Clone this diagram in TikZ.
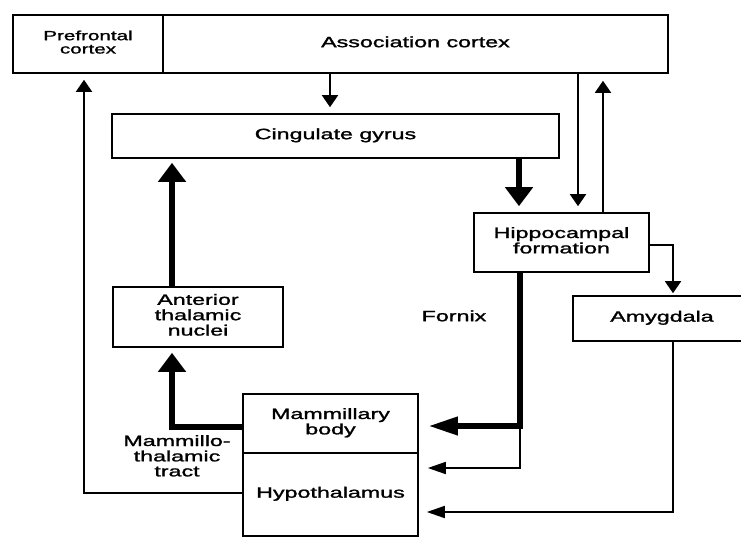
\documentclass[tikz,border=0pt]{standalone}
\usepackage{fontspec}
\setmainfont{Liberation Sans}[FakeBold=1.2]
\newfontfamily\heavyfont{Liberation Sans}[FakeBold=1.2]
\usetikzlibrary{arrows.meta}
\newcommand\wt[2][15]{\scalebox{1.55}[1]{\heavyfont\fontsize{#1}{#1}\selectfont\begin{tabular}{@{}c@{}}#2\end{tabular}}}
\tikzset{
  boxnode/.style={draw, line width=1.6pt, rectangle, inner sep=0pt, anchor=center},
  lbl/.style={inner sep=0pt, anchor=center},
  thinv/.style={line width=1.7pt, -{Triangle[width=16pt,length=12pt]}},
  thinh/.style={line width=1.7pt, -{Triangle[width=12pt,length=18pt]}},
  thickv/.style={line width=6.5pt, -{Triangle[width=27pt,length=19pt]}},
  thickh/.style={line width=6.5pt, -{Triangle[width=17pt,length=30pt]}},
}
\begin{document}
\begin{tikzpicture}[x=1pt,y=-1pt]
\useasboundingbox (0,0) rectangle (741,538);
\clip (0,0) rectangle (741,538);
% boxes
\node[boxnode, minimum width=150pt, minimum height=58pt] (pre) at (88,44) {\wt[13.3]{Prefrontal\\cortex}};
\node[boxnode, minimum width=505pt, minimum height=58pt] (assoc) at (415.5,44) {\wt{Association cortex}};
\node[boxnode, minimum width=447pt, minimum height=44pt] (cing) at (335.5,136) {\wt{Cingulate gyrus}};
\node[boxnode, minimum width=175pt, minimum height=59pt] (hip) at (561.5,242.5) {\wt{Hippocampal\\formation}};
\node[boxnode, minimum width=178pt, minimum height=45pt] (amy) at (662,318.5) {\wt{Amygdala}};
\node[boxnode, minimum width=170pt, minimum height=60pt] (ant) at (198,317) {\wt{Anterior\\thalamic\\nuclei}};
\node[boxnode, minimum width=175pt, minimum height=59pt] (mam) at (330.5,423.5) {\wt{Mammillary\\body}};
\node[boxnode, minimum width=175pt, minimum height=83pt] (hyp) at (330.5,494.5) {\wt{Hypothalamus}};
% labels
\node[lbl] (fornix) at (454,318) {\wt{Fornix}};
\node[lbl] (mtt) at (177,458) {\wt{Mammillo-\\thalamic\\tract}};
% x positions of vertical connectors
\coordinate (xac) at (330,0);
\coordinate (xch) at (519,0);
\coordinate (xah) at (578,0);
\coordinate (xha) at (603,0);
\coordinate (xam) at (673,0);
\coordinate (xmt) at (172,0);
\coordinate (xpf) at (84,0);
\coordinate (fj) at (520,426);
\coordinate (hj) at (520,468);
% connectors
\draw[thinv, shorten >=6pt] (assoc.south -| xac) -- (cing.north -| xac);
\draw[thickv, shorten >=6pt] (cing.south -| xch) -- (hip.north -| xch);
\draw[thinv, shorten >=6pt] (assoc.south -| xah) -- (hip.north -| xah);
\draw[thinv, shorten >=7pt] (hip.north -| xha) -- (assoc.south -| xha);
\draw[thinv, shorten >=2pt] (hip.east |- 0,245) -| (amy.north -| xam);
\draw[thinh, shorten >=8pt] (amy.south -| xam) |- (hyp.east |- 0,512);
\draw[thickh, shorten >=9pt] (hip.south -| fj) |- (mam.east |- fj);
\draw[thinh, shorten >=9pt] (fj) -- (hj) -- (hyp.east |- hj);
\draw[thickv, shorten >=5pt] (mam.west |- 0,427) -| (ant.south -| xmt);
\draw[thickv, shorten >=4pt] (ant.north -| xmt) -- (cing.south -| xmt);
\draw[thinv, shorten >=6pt] (hyp.west |- 0,493) -| (pre.south -| xpf);
\end{tikzpicture}
\end{document}
